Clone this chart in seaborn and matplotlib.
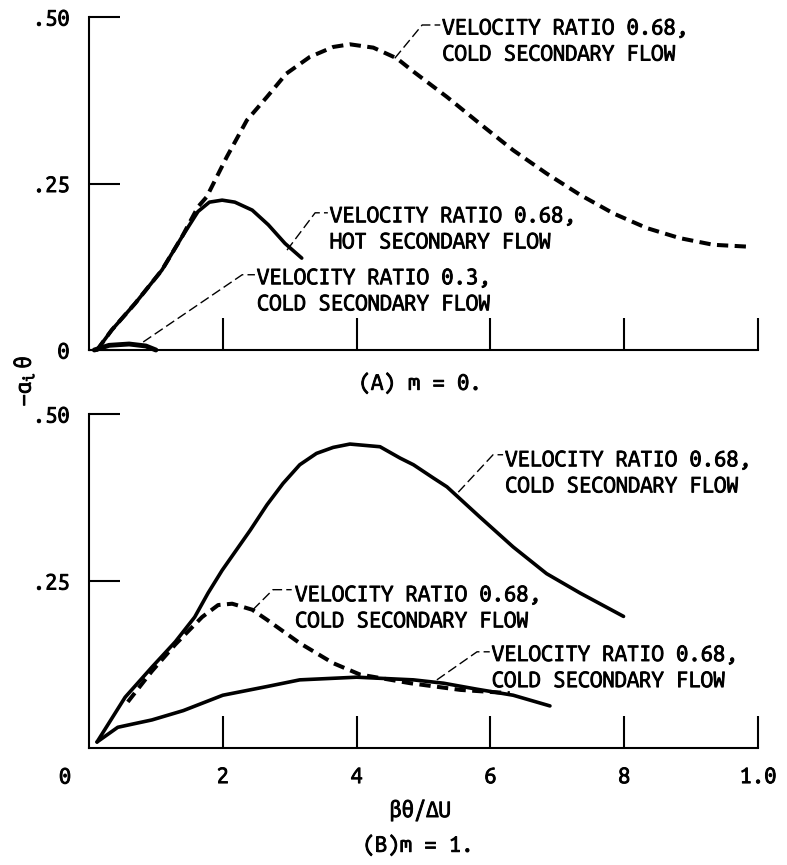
import matplotlib
matplotlib.use("Agg")
import matplotlib.pyplot as plt
import matplotlib.patheffects as pe
from matplotlib.text import Text
import seaborn as sns
import pandas as pd

sns.set_style("ticks")
plt.rcParams["font.family"] = ["Ubuntu Mono", "Liberation Mono", "DejaVu Sans Mono"]
plt.rcParams["mathtext.fontset"] = "custom"
plt.rcParams["mathtext.rm"] = "Ubuntu Mono"
plt.rcParams["mathtext.it"] = "Ubuntu Mono"
plt.rcParams["text.color"] = "black"
plt.rcParams["axes.labelcolor"] = "black"

# ---- (A) m = 0 ----
a_cold68_x = [0.012, 0.034, 0.069, 0.109, 0.139, 0.163, 0.176, 0.206, 0.236, 0.266, 0.295, 0.330,
              0.365, 0.390, 0.425, 0.460, 0.485, 0.535, 0.584, 0.634, 0.684, 0.734, 0.784,
              0.834, 0.883, 0.933, 0.988]
a_cold68_y = [0.0, 0.03, 0.07, 0.12, 0.17, 0.215, 0.230, 0.290, 0.345, 0.380, 0.415, 0.440,
              0.455, 0.459, 0.454, 0.438, 0.418, 0.380, 0.340, 0.300, 0.265, 0.233, 0.205,
              0.183, 0.168, 0.158, 0.155]

a_hot68_x = [0.012, 0.034, 0.069, 0.109, 0.139, 0.163, 0.180, 0.199, 0.218, 0.244, 0.268, 0.293, 0.318]
a_hot68_y = [0.0, 0.03, 0.07, 0.12, 0.17, 0.208, 0.222, 0.225, 0.222, 0.21, 0.188, 0.16, 0.138]

a_cold03_x = [0.008, 0.03, 0.06, 0.085, 0.10]
a_cold03_y = [0.0, 0.007, 0.009, 0.006, 0.0]

# ---- (B) m = 1 ----
b_upper_x = [0.012, 0.054, 0.094, 0.129, 0.158, 0.178, 0.199, 0.241, 0.266, 0.29, 0.315, 0.34,
             0.365, 0.39, 0.435, 0.465, 0.485, 0.515, 0.535, 0.584, 0.634, 0.684, 0.734, 0.799]
b_upper_y = [0.009, 0.076, 0.121, 0.159, 0.196, 0.232, 0.266, 0.326, 0.364, 0.396, 0.424, 0.441,
             0.450, 0.455, 0.451, 0.434, 0.424, 0.404, 0.391, 0.346, 0.301, 0.261, 0.232, 0.197]

b_dash_x = [0.058, 0.094, 0.129, 0.169, 0.193, 0.214, 0.244, 0.266, 0.315, 0.365, 0.405, 0.48,
            0.555, 0.629]
b_dash_y = [0.069, 0.115, 0.155, 0.196, 0.214, 0.216, 0.207, 0.192, 0.157, 0.127, 0.110, 0.097,
            0.087, 0.082]

b_lower_x = [0.012, 0.043, 0.066, 0.094, 0.141, 0.2, 0.266, 0.315, 0.4, 0.485, 0.53, 0.58,
             0.634, 0.689]
b_lower_y = [0.009, 0.031, 0.036, 0.042, 0.056, 0.079, 0.092, 0.102, 0.106, 0.102, 0.097, 0.088,
             0.079, 0.063]

x_ticks = [0.2, 0.4, 0.6, 0.8, 1.0]
x_tick_labels = ["2", "4", "6", "8", "1.0"]
y_ticks = [0.0, 0.25, 0.50]
y_tick_labels = ["0", ".25", ".50"]

label_68_cold = "VELOCITY RATIO 0.68,\nCOLD SECONDARY FLOW"
label_68_hot = "VELOCITY RATIO 0.68,\nHOT SECONDARY FLOW"
label_03_cold = "VELOCITY RATIO 0.3,\nCOLD SECONDARY FLOW"

W, H = 787, 865
fig = plt.figure(figsize=(W / 100, H / 100), dpi=100)
ax_a = fig.add_axes([89 / W, (H - 350) / H, 669 / W, 333 / H])
ax_b = fig.add_axes([89 / W, (H - 748) / H, 669 / W, 334 / H])

FS = 15.8
LW_CURVE = 2.6
DASH = (0, (2.8, 1.6))


def curve(ax, xs, ys, dashed=False, lw=LW_CURVE):
    df = pd.DataFrame({"x": xs, "y": ys})
    sns.lineplot(data=df, x="x", y="y", ax=ax, color="black",
                 lw=(lw + 0.3) if dashed else lw, sort=False, estimator=None,
                 linestyle=DASH if dashed else "-", clip_on=False,
                 solid_capstyle="round", solid_joinstyle="round")


def callout(ax, pts, text, tx, ty):
    ax.plot([p[0] for p in pts], [p[1] for p in pts], color="black", lw=1.0,
            linestyle=(0, (7, 3)), clip_on=False)
    ax.text(tx, ty, text, ha="left", va="center", fontsize=FS, linespacing=1.3,
            color="black")


for ax in (ax_a, ax_b):
    ax.set_xlim(0, 1.0)
    ax.set_ylim(0, 0.5)
    sns.despine(ax=ax)
    for s in ("left", "bottom"):
        ax.spines[s].set_linewidth(1.5)
        ax.spines[s].set_color("black")
    ax.set_xticks(x_ticks)
    ax.tick_params(axis="x", direction="in", length=23, width=1.5, pad=13,
                   labelsize=FS, colors="black")
    ax.tick_params(axis="y", direction="in", length=22, width=1.5, pad=14,
                   labelsize=FS, colors="black")

# panel A
ax_a.set_xticklabels([])
ax_a.set_yticks(y_ticks)
ax_a.set_yticklabels(y_tick_labels)
curve(ax_a, a_cold68_x, a_cold68_y, dashed=True)
curve(ax_a, a_hot68_x, a_hot68_y)
curve(ax_a, a_cold03_x, a_cold03_y, lw=3.5)
ax_a.set_xlabel("")
ax_a.set_ylabel("")
callout(ax_a, [(0.457, 0.438), (0.498, 0.488), (0.525, 0.488)], label_68_cold, 0.528, 0.464)
callout(ax_a, [(0.296, 0.150), (0.338, 0.206), (0.357, 0.206)], label_68_hot, 0.360, 0.182)
callout(ax_a, [(0.081, 0.012), (0.229, 0.113), (0.248, 0.113)], label_03_cold, 0.251, 0.089)

# panel B
ax_b.set_xticklabels(x_tick_labels)
ax_b.set_yticks(y_ticks[1:])
ax_b.set_yticklabels(y_tick_labels[1:])
curve(ax_b, b_upper_x, b_upper_y)
curve(ax_b, b_dash_x, b_dash_y, dashed=True)
curve(ax_b, b_lower_x, b_lower_y)
ax_b.set_xlabel("")
ax_b.set_ylabel("")
callout(ax_b, [(0.552, 0.383), (0.604, 0.439), (0.619, 0.439)], label_68_cold, 0.622, 0.412)
callout(ax_b, [(0.245, 0.207), (0.275, 0.237), (0.303, 0.237)], label_68_cold, 0.308, 0.210)
callout(ax_b, [(0.520, 0.102), (0.580, 0.144), (0.599, 0.144)], label_68_cold, 0.602, 0.1205)

# shared labels and captions
fig.text(65 / W, 1 - 777 / H, "0", ha="center", va="center", fontsize=FS)
fig.text(420 / W, 1 - 810 / H, "βθ/ΔU", ha="center", va="center", fontsize=FS)
fig.text(420 / W, 1 - 383 / H, "(A) m = 0.", ha="center", va="center", fontsize=FS)
fig.text(418 / W, 1 - 845 / H, "(B)m = 1.", ha="center", va="center", fontsize=FS)
fig.text(24 / W, 1 - 381 / H, r"$-\alpha_i\ \theta$", ha="center",
         va="center", rotation=90, fontsize=FS)

# heavier lettering strokes
heavy = [pe.withStroke(linewidth=0.7, foreground="black")]
for t in fig.findobj(Text):
    if t.get_text():
        t.set_path_effects(heavy)

fig.savefig("out.png", dpi=100, facecolor="white")
